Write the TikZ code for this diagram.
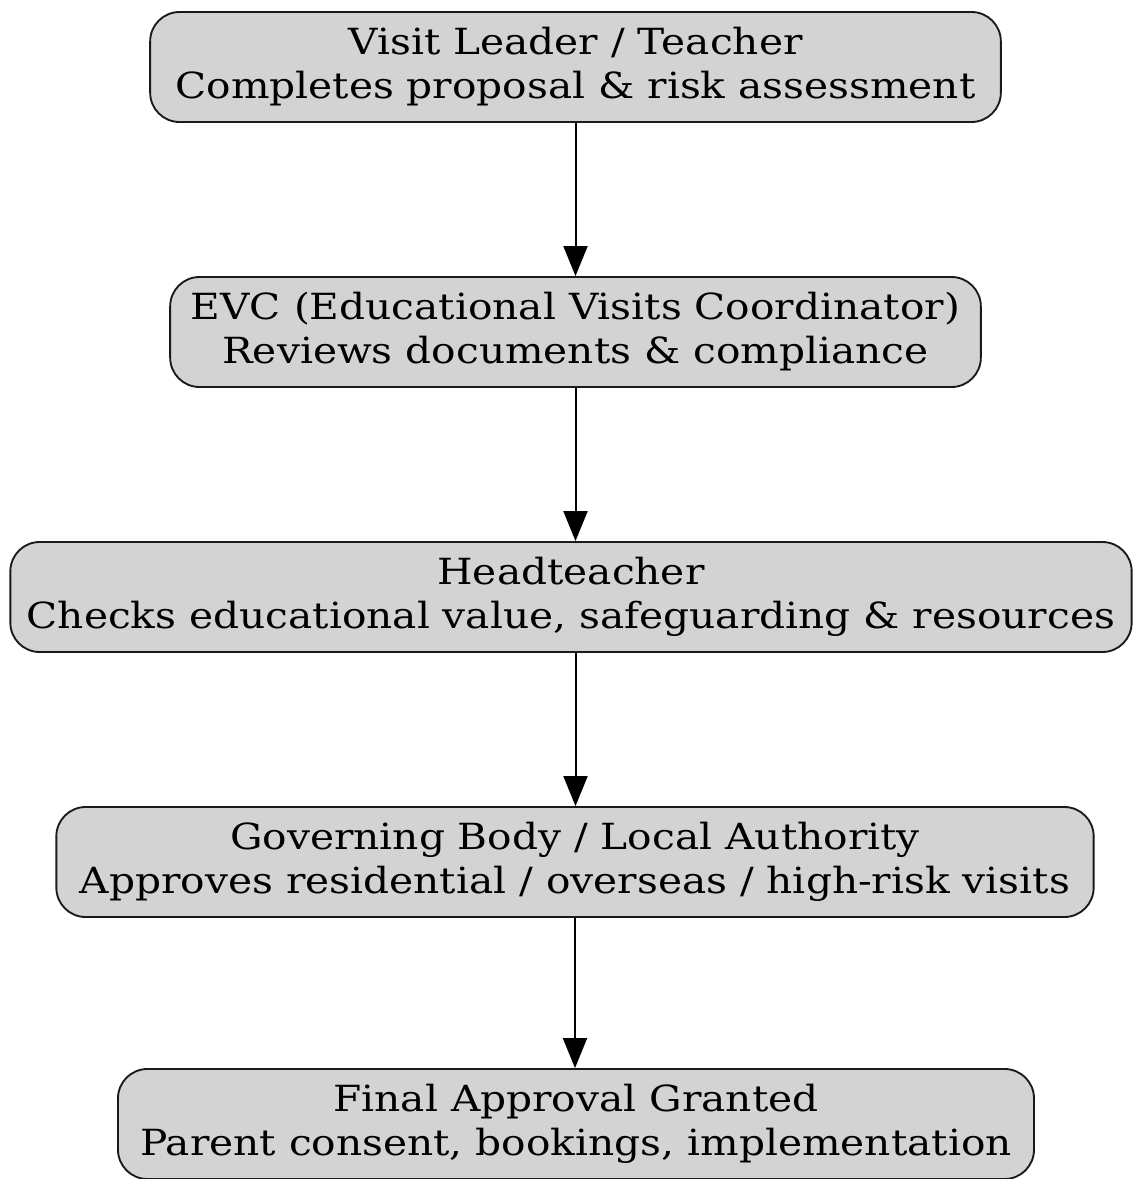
\documentclass[tikz,border=0pt]{standalone}
\usepackage{fontspec}
\setmainfont{DejaVu Serif}[FakeStretch=1.13]
\usetikzlibrary{arrows.meta}
\definecolor{boxfill}{HTML}{D3D3D3}
\definecolor{boxline}{HTML}{1A1A1A}
\begin{document}
\begin{tikzpicture}[x=0.75pt,y=-0.75pt,
  stagebox/.style={draw=boxline,line width=1.4pt,fill=boxfill,rounded corners=22pt,
    minimum height=82.5pt,inner sep=0pt,align=center,
    font=\fontsize{27}{33}\selectfont},
  flow/.style={line width=1.5pt,-{Triangle[length=22.5pt,width=18pt]}}]
\useasboundingbox (0,0) rectangle (1133,1179);
\node[stagebox,minimum width=638pt] (n1) at (575.5,67) {Visit Leader / Teacher\\Completes proposal \& risk assessment};
\node[stagebox,minimum width=608pt] (n2) at (575.5,332) {EVC (Educational Visits Coordinator)\\Reviews documents \& compliance};
\node[stagebox,minimum width=841pt] (n3) at (571,597) {Headteacher\\Checks educational value, safeguarding \& resources};
\node[stagebox,minimum width=778pt] (n4) at (575,862) {Governing Body / Local Authority\\Approves residential / overseas / high-risk visits};
\node[stagebox,minimum width=687pt] (n5) at (576,1124) {Final Approval Granted\\Parent consent, bookings, implementation};
\draw[flow] (n1.south) -- (n1.south |- n2.north);
\draw[flow] (n2.south) -- (n2.south |- n3.north);
\draw[flow] (n2.south |- n3.south) -- (n2.south |- n4.north);
\draw[flow] (n4.south) -- (n4.south |- n5.north);
\end{tikzpicture}
\end{document}
